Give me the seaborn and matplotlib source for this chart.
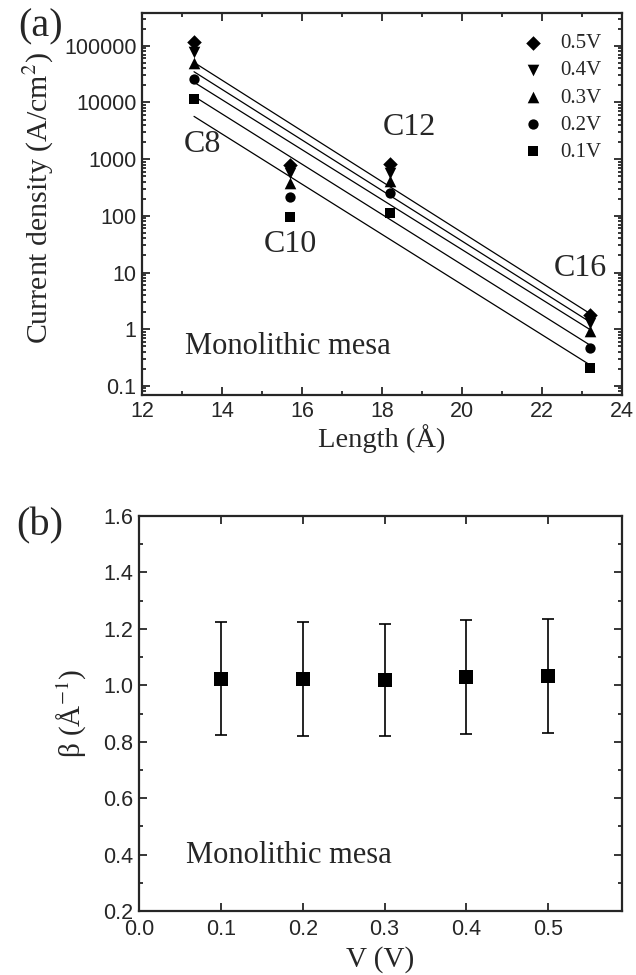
import numpy as np
import pandas as pd
import matplotlib
matplotlib.use("Agg")
import matplotlib.pyplot as plt
import seaborn as sns
from matplotlib.ticker import LogLocator, FuncFormatter, MultipleLocator, NullFormatter

# panel (a): current density vs molecular length
length = [13.3, 15.7, 18.2, 23.2]
molecules = ["C8", "C10", "C12", "C16"]
j_05 = [115000, 785, 830, 1.79]
j_04 = [78000, 560, 565, 1.28]
j_03 = [49000, 380, 415, 0.91]
j_02 = [26000, 215, 250, 0.46]
j_01 = [11500, 95, 112, 0.205]
volt_labels = ["0.5V", "0.4V", "0.3V", "0.2V", "0.1V"]

# panel (b): decay coefficient vs bias
bias = [0.1, 0.2, 0.3, 0.4, 0.5]
beta = [1.023, 1.023, 1.019, 1.029, 1.033]
beta_err = [0.200, 0.201, 0.200, 0.203, 0.203]

sns.set_style("ticks")
plt.rcParams["font.family"] = ["Liberation Sans", "DejaVu Sans"]
plt.rcParams["mathtext.fontset"] = "stix"
serif = ["Liberation Serif", "DejaVu Serif"]

rows = []
for lab, vals in zip(volt_labels, [j_05, j_04, j_03, j_02, j_01]):
    for x, y in zip(length, vals):
        rows.append({"length": x, "J": y, "V": lab})
df = pd.DataFrame(rows)

fig = plt.figure(figsize=(6.36, 9.75), dpi=100)
ax1 = fig.add_axes([0.2233, 0.5949, 0.7547, 0.3918])
ax2 = fig.add_axes([0.2186, 0.0656, 0.7594, 0.4051])

markers = {"0.5V": "D", "0.4V": "v", "0.3V": "^", "0.2V": "o", "0.1V": "s"}
sizes = {"0.5V": 55, "0.4V": 70, "0.3V": 70, "0.2V": 55, "0.1V": 45}

for lab in volt_labels:
    sub = df[df["V"] == lab]
    sns.scatterplot(data=sub, x="length", y="J", marker=markers[lab], s=sizes[lab],
                    color="black", edgecolor="black", linewidth=0, ax=ax1, label=lab)
    # exponential fit (linear in log scale)
    k, b = np.polyfit(sub["length"], np.log10(sub["J"]), 1)
    xs = np.array([min(length), max(length)])
    ax1.plot(xs, 10 ** (k * xs + b), color="black", lw=0.9)

ax1.set_yscale("log")
ax1.set_xlim(12, 24)
ax1.set_ylim(0.069, 3.8e5)
ax1.xaxis.set_major_locator(MultipleLocator(2))
ax1.xaxis.set_minor_locator(MultipleLocator(1))
ax1.yaxis.set_major_locator(LogLocator(base=10, numticks=20))
ax1.yaxis.set_minor_locator(LogLocator(base=10, subs=np.arange(2, 10), numticks=20))
ax1.yaxis.set_major_formatter(FuncFormatter(lambda v, p: "%g" % v))
ax1.yaxis.set_minor_formatter(NullFormatter())
ax1.set_xlabel("Length (Å)", fontsize=20.5, family=serif, labelpad=2)
ax1.set_ylabel("Current density (A/cm$^{2}$)", fontsize=21.5, family=serif)
ax1.yaxis.set_label_coords(-0.18, 0.515)

leg = ax1.legend(loc="upper right", frameon=False, prop={"family": serif, "size": 15},
                 handletextpad=0.3, labelspacing=0.36, borderaxespad=0.7,
                 borderpad=0.3, markerscale=1.0)

label_pos = {"C8": (13.5, 1780), "C10": (15.72, 31), "C12": (18.68, 3550),
             "C16": (22.95, 12)}
for m in molecules:
    ax1.text(label_pos[m][0], label_pos[m][1], m, fontsize=23, family=serif,
             ha="center", va="center")
ax1.text(13.08, 0.5, "Monolithic mesa", fontsize=22, family=serif, va="center")

# panel (b)
dfb = pd.DataFrame({"V": bias, "beta": beta, "err": beta_err})
ax2.errorbar(dfb["V"], dfb["beta"], yerr=dfb["err"], fmt="none", ecolor="black",
             elinewidth=1.2, capsize=4, capthick=1.2)
sns.scatterplot(data=dfb, x="V", y="beta", marker="s", s=110, color="black",
                linewidth=0, ax=ax2, zorder=3)
ax2.set_xlim(0, 0.59)
ax2.set_ylim(0.2, 1.6)
ax2.xaxis.set_major_locator(MultipleLocator(0.1))
ax2.yaxis.set_major_locator(MultipleLocator(0.2))
ax2.yaxis.set_minor_locator(MultipleLocator(0.1))
ax2.xaxis.set_major_formatter(FuncFormatter(lambda v, p: "%.1f" % v))
ax2.yaxis.set_major_formatter(FuncFormatter(lambda v, p: "%.1f" % v))
ax2.set_xlabel("V (V)", fontsize=21, family=serif, labelpad=4)
ax2.set_ylabel("β (Å$^{-1}$)", fontsize=21, family=serif, labelpad=10)
ax2.text(0.0575, 0.397, "Monolithic mesa", fontsize=22, family=serif, va="center")

for ax in (ax1, ax2):
    for sp in ax.spines.values():
        sp.set_linewidth(1.6)
        sp.set_visible(True)
    ax.tick_params(which="both", direction="in", top=True, right=True,
                   labeltop=False, labelright=False,
                   labelsize=15.5, width=1.3, pad=4)
    ax.tick_params(which="major", length=5.5)
    ax.tick_params(which="minor", length=3)
ax2.tick_params(axis="x", pad=6)

fig.text(0.063, 0.972, "(a)", fontsize=29, family=serif, ha="center", va="center")
fig.text(0.063, 0.461, "(b)", fontsize=29, family=serif, ha="center", va="center")

fig.savefig("out.png", dpi=100)
